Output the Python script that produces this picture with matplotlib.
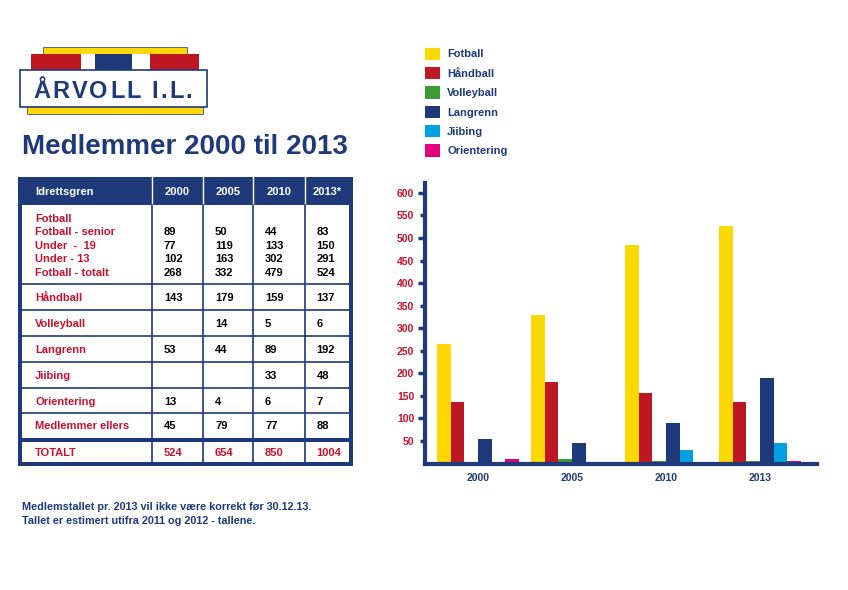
import matplotlib
matplotlib.use('Agg')
import matplotlib.pyplot as plt
from matplotlib.patches import Rectangle
import numpy as np

plt.rcParams['font.family'] = ['Liberation Sans', 'DejaVu Sans']
plt.rcParams['font.weight'] = 'bold'

years = ['2000', '2005', '2010', '2013']
sports = ['Fotball', 'Håndball', 'Volleyball', 'Langrenn', 'Jiibing', 'Orientering']
fotball = [265, 330, 484, 527]
handball = [137, 180, 157, 137]
volleyball = [0, 9, 5, 5]
langrenn = [54, 45, 89, 189]
jiibing = [0, 0, 31, 45]
orientering = [9, 3, 3, 5]
y_major = [100, 200, 300, 400, 500, 600]
y_minor = [50, 150, 250, 350, 450, 550]

# Tabela
table_header = ['Idrettsgren', '2000', '2005', '2010', '2013*']
fotball_rows = ['Fotball', 'Fotball - senior', 'Under  -  19', 'Under - 13', 'Fotball - totalt']
fotball_vals = [['', '', '', ''],
                ['89', '50', '44', '83'],
                ['77', '119', '133', '150'],
                ['102', '163', '302', '291'],
                ['268', '332', '479', '524']]
other_rows = ['Håndball', 'Volleyball', 'Langrenn', 'Jiibing', 'Orientering', 'Medlemmer ellers']
other_vals = [['143', '179', '159', '137'],
              ['', '14', '5', '6'],
              ['53', '44', '89', '192'],
              ['', '', '33', '48'],
              ['13', '4', '6', '7'],
              ['45', '79', '77', '88']]
total_label = 'TOTALT'
total_vals = ['524', '654', '850', '1004']

navy = '#1e3a7b'
red = '#c8102e'
colors = ['#fcd700', '#be1622', '#3c9b35', '#1e3a7b', '#00a0e2', '#e5007e']

fig = plt.figure(figsize=(8.48, 5.9), dpi=100)
renderer = fig.canvas.get_renderer()

# camada de fundo em pixels
bg = fig.add_axes([0, 0, 1, 1])
bg.set_xlim(0, 848)
bg.set_ylim(590, 0)
bg.axis('off')

# logo
bg.add_patch(Rectangle((43, 47), 144, 8, facecolor='#fcd700', edgecolor=navy, lw=0.5))
bg.add_patch(Rectangle((27, 100), 176, 14, facecolor='#fcd700', edgecolor=navy, lw=0.5))
for x0, x1, c in [(31, 81, '#be1622'), (81, 95, 'white'), (95, 132, navy),
                  (132, 150, 'white'), (150, 199, '#be1622')]:
    bg.add_patch(Rectangle((x0, 54), x1 - x0, 18, facecolor=c, lw=0))
bg.add_patch(Rectangle((20, 70), 187, 37, facecolor='white', edgecolor=navy, lw=1.2))

# texto do logo com espaçamento entre letras
logo_text = 'ÅRVOLL I.L.'
lx = 33
for ch in logo_text:
    if ch == ' ':
        lx += 8
        continue
    t = bg.text(lx, 98.5, ch, color=navy, fontsize=17, va='baseline')
    lx += t.get_window_extent(renderer).width + 2.2

# título
bg.text(22, 154, 'Medlemmer 2000 til 2013', color=navy, fontsize=20, va='baseline')

# tabela
left, right, top, bottom = 18, 353, 177, 466
col_x = [22, 152, 203, 253, 304.5, 349]
bg.add_patch(Rectangle((left, top), right - left, bottom - top, facecolor=navy, lw=0))
bg.add_patch(Rectangle((22, 205), 327, 257, facecolor='white', lw=0))
for cx in col_x[1:-1]:
    bg.plot([cx, cx], [top, 205], color='white', lw=1)
    bg.plot([cx, cx], [205, 462], color=navy, lw=1.2)
row_lines = [205, 284.3, 310, 336, 362.3, 388.3, 413.3, 437.5]
for ry in row_lines[1:-1]:
    bg.plot([22, 349], [ry, ry], color=navy, lw=1.2)
bg.add_patch(Rectangle((22, 437.5), 327, 4, facecolor=navy, lw=0))

fs = 8
off = 4
val_x = [cx + 12 for cx in col_x[1:5]]
bg.text(35, 191 + off, table_header[0], color='white', fontsize=fs, va='baseline')
for i, h in enumerate(table_header[1:]):
    bg.text((col_x[i + 1] + col_x[i + 2]) / 2, 191 + off, h, color='white', fontsize=fs,
            ha='center', va='baseline')

for j, (lab, vals) in enumerate(zip(fotball_rows, fotball_vals)):
    yy = 217.7 + j * 13.45 + off
    bg.text(35, yy, lab, color=red, fontsize=fs, va='baseline')
    for vx, v in zip(val_x, vals):
        bg.text(vx, yy, v, color='black', fontsize=fs, va='baseline')

for j, (lab, vals) in enumerate(zip(other_rows, other_vals)):
    yy = (row_lines[j + 1] + row_lines[j + 2]) / 2 + off
    bg.text(35, yy, lab, color=red, fontsize=fs, va='baseline')
    for vx, v in zip(val_x, vals):
        bg.text(vx, yy, v, color='black', fontsize=fs, va='baseline')

yy = 452 + off
bg.text(35, yy, total_label, color=red, fontsize=fs, va='baseline')
for vx, v in zip(val_x, total_vals):
    bg.text(vx, yy, v, color=red, fontsize=fs, va='baseline')

# nota
bg.text(22, 510, 'Medlemstallet pr. 2013 vil ikke være korrekt før 30.12.13.', color=navy,
        fontsize=7.8, va='baseline')
bg.text(22, 523.5, 'Tallet er estimert utifra 2011 og 2012 - tallene.', color=navy,
        fontsize=7.8, va='baseline')

# gráfico de barras
ax = fig.add_axes([424.7 / 848, (590 - 463.5) / 590, (817 - 424.7) / 848, (463.5 - 183) / 590])
ax.set_facecolor('none')
series = [fotball, handball, volleyball, langrenn, jiibing, orientering]
x = np.arange(len(years))
w = 0.1457
for i, (name, vals) in enumerate(zip(sports, series)):
    ax.bar(x + (i - 2.5) * w, vals, width=w, color=colors[i], label=name, lw=0)

ax.set_xlim(-0.567, 3.606)
ax.set_ylim(0, 622)
for s in ['top', 'right']:
    ax.spines[s].set_visible(False)
for s in ['left', 'bottom']:
    ax.spines[s].set_color(navy)
    ax.spines[s].set_linewidth(3)

ax.set_yticks(y_major, labels=[str(v) for v in y_major])
ax.set_yticks(y_minor, labels=[str(v) for v in y_minor], minor=True)
ax.tick_params(axis='y', which='major', length=5, width=2.5, color=navy, pad=2.5,
               labelcolor=red, labelsize=7.5)
ax.tick_params(axis='y', which='minor', length=3.5, width=2.5, color=navy, pad=4,
               labelcolor=red, labelsize=7.5)
for t in ax.get_yticklabels(which='both'):
    t.set_fontweight('bold')
ax.set_xticks(x, labels=years)
ax.tick_params(axis='x', length=0, pad=7, labelcolor=navy, labelsize=7.5)

leg = ax.legend(loc='upper left', bbox_to_anchor=(425 / 848, 1 - 47.5 / 590),
                bbox_transform=fig.transFigure, frameon=False, fontsize=8,
                handlelength=1.35, handleheight=1.35, labelspacing=0.62,
                handletextpad=0.65, borderpad=0, borderaxespad=0)
for t in leg.get_texts():
    t.set_color(navy)

fig.savefig('out.png', dpi=100)
